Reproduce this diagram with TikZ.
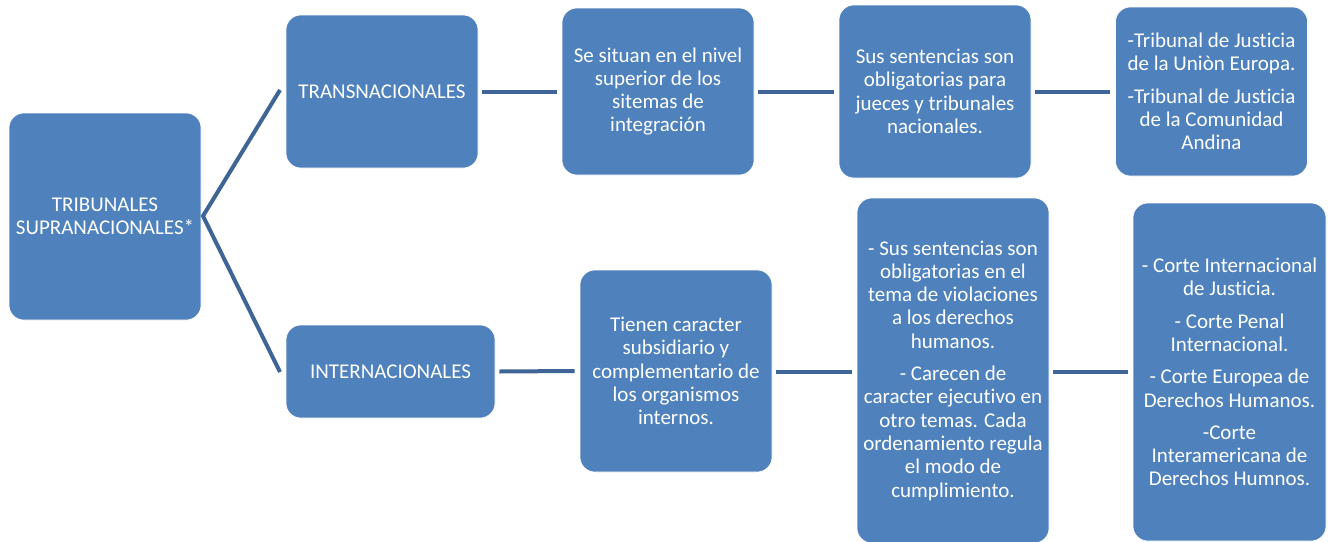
\documentclass[tikz,border=0pt]{standalone}
\usepackage{fontspec}
\setmainfont[Ligatures=NoCommon]{Carlito}
\definecolor{boxblue}{RGB}{79,129,189}
\definecolor{linkblue}{RGB}{62,101,150}
\tikzset{
  box/.style={draw=white, line width=0.6pt, fill=boxblue, rounded corners=15pt,
    text=white, align=center, inner sep=0pt,
    font=\fontsize{21}{23.3}\selectfont},
  link/.style={draw=linkblue, line width=4pt}
}
\begin{document}
\begin{tikzpicture}[x=1pt,y=-1pt]
\useasboundingbox (0,0) rectangle (1335,541);
\node[box, minimum width=192, minimum height=207] (root) at (105,216.5) {TRIBUNALES\\SUPRANACIONALES*};
\node[box, minimum width=192, minimum height=153] (trans) at (382,91.5) {TRANSNACIONALES};
\node[box, minimum width=192, minimum height=167] (t2) at (658,91.5) {Se situan en el nivel\\superior de los\\sitemas de\\integración};
\node[box, minimum width=192, minimum height=173] (t3) at (935,91.5) {Sus sentencias son\\obligatorias para\\jueces y tribunales\\nacionales.};
\node[box, minimum width=192, minimum height=169] (t4) at (1211.5,91.5) {-Tribunal de Justicia\\de la Uniòn Europa.\\[9pt]-Tribunal de Justicia\\de la Comunidad\\Andina};
\node[box, minimum width=209, minimum height=93] (inter) at (390.5,371.5) {INTERNACIONALES};
\node[box, minimum width=192, minimum height=202] (i2) at (676,371) {Tienen caracter\\subsidiario y\\complementario de\\los organismos\\internos.};
\node[box, minimum width=192, minimum height=345] (i3) at (953,370.5) {- Sus sentencias son\\obligatorias en el\\tema de violaciones\\a los derechos\\humanos.\\[9pt]- Carecen de\\caracter ejecutivo en\\otro temas. Cada\\ordenamiento regula\\el modo de\\cumplimiento.};
\node[box, minimum width=193, minimum height=338] (i4) at (1229.5,372) {- Corte Internacional\\de Justicia.\\[9pt]- Corte Penal\\Internacional.\\[9pt]- Corte Europea de\\Derechos Humanos.\\[9pt]-Corte\\Interamericana de\\Derechos Humnos.};
\coordinate (apex) at (203,216);
\coordinate (tin) at (280,90);
\coordinate (iin) at (280,372);
\draw[link] (tin) -- (apex) -- (iin);
\draw[link] ([xshift=4pt]trans.east) -- ([xshift=-5pt]t2.west);
\draw[link] ([xshift=4pt]t2.east) -- ([xshift=-5pt]t3.west);
\draw[link] ([xshift=4pt]t3.east) -- ([xshift=-5pt]t4.west);
\draw[link] ([xshift=4pt]inter.east) -- ([xshift=-5pt]i2.west);
\draw[link] ([xshift=4pt]i2.east|-inter.east) -- ([xshift=-5pt]i3.west|-inter.east);
\draw[link] ([xshift=4pt]i3.east|-inter.east) -- ([xshift=-5pt]i4.west|-inter.east);
\end{tikzpicture}
\end{document}
